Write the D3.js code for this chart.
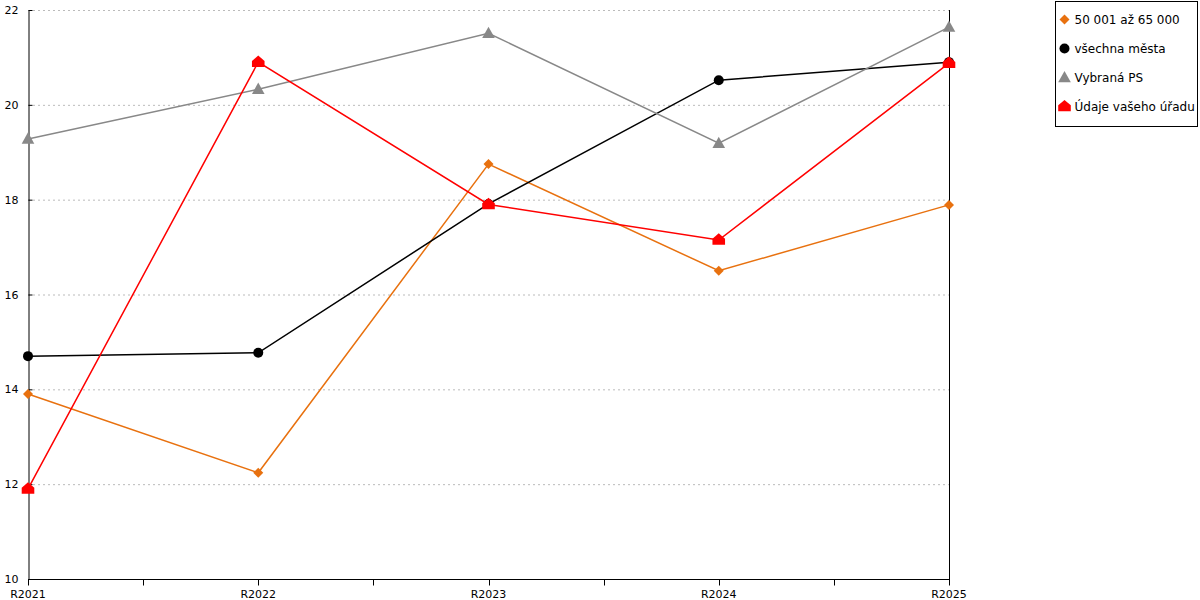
<!DOCTYPE html>
<html>
<head>
<meta charset="utf-8">
<script src="https://cdn.jsdelivr.net/npm/d3@7"></script>
<style>
  body { margin: 0; background: #fff; }
  svg { display: block; font-family: "DejaVu Sans", Verdana, sans-serif; }
</style>
</head>
<body>
<svg id="chart" width="1200" height="600"></svg>
<script>
const categories = ['R2021', 'R2022', 'R2023', 'R2024', 'R2025'];
const yTicks = [10, 12, 14, 16, 18, 20, 22];

const seriesNames = ['50 001 až 65 000', 'všechna města', 'Vybraná PS', 'Údaje vašeho úřadu'];
const valuesOrange = [13.9, 12.24, 18.75, 16.5, 17.89];
const valuesBlack = [14.7, 14.77, 17.91, 20.52, 20.9];
const valuesGray = [19.28, 20.33, 21.51, 19.19, 21.64];
const valuesRed = [11.9, 20.9, 17.9, 17.15, 20.88];

const colors = ['#e8710f', '#000000', '#888888', '#ff0000'];
const markers = ['diamond', 'circle', 'triangle', 'house'];
const allValues = [valuesOrange, valuesBlack, valuesGray, valuesRed];

const svg = d3.select('#chart');
const plotLeft = 28, plotRight = 949, plotTop = 10, plotBottom = 579;

const x = d3.scalePoint().domain(categories).range([plotLeft, plotRight]);
const y = d3.scaleLinear().domain([10, 22]).range([plotBottom, plotTop]);

// mřížka
svg.append('g')
  .selectAll('line')
  .data(yTicks.slice(1))
  .join('line')
  .attr('x1', plotLeft).attr('x2', plotRight)
  .attr('y1', d => y(d) + 0.5).attr('y2', d => y(d) + 0.5)
  .attr('stroke', '#bbb')
  .attr('stroke-dasharray', '2,3');

// osa y
const yAxis = svg.append('g')
  .attr('transform', `translate(${plotLeft + 0.5},0)`)
  .call(d3.axisLeft(y).tickValues(yTicks).tickSize(5).tickSizeOuter(0));
yAxis.select('.domain').attr('stroke', '#000');
yAxis.selectAll('.tick line').attr('x2', 4);
yAxis.selectAll('.tick text')
  .attr('x', -10)
  .style('font-size', '11px')
  .style('font-family', '"DejaVu Sans", Verdana, sans-serif')
  .attr('fill', '#000');

// pravá osa bez popisků
svg.append('line')
  .attr('x1', plotRight + 0.5).attr('x2', plotRight + 0.5)
  .attr('y1', plotTop).attr('y2', plotBottom)
  .attr('stroke', '#000');

// osa x s mezilehlými značkami
const nSteps = (categories.length - 1) * 2;
const midTicks = d3.range(nSteps + 1).map(i => plotLeft + i * (plotRight - plotLeft) / nSteps);
const xAxis = svg.append('g').attr('transform', `translate(0,${plotBottom + 0.5})`);
xAxis.append('line')
  .attr('x1', plotLeft).attr('x2', plotRight + 1)
  .attr('stroke', '#000');
xAxis.selectAll('line.tk')
  .data(midTicks)
  .join('line')
  .attr('class', 'tk')
  .attr('x1', d => Math.round(d) + 0.5).attr('x2', d => Math.round(d) + 0.5)
  .attr('y1', 0).attr('y2', 6)
  .attr('stroke', '#000');
xAxis.selectAll('text')
  .data(categories)
  .join('text')
  .attr('x', d => x(d))
  .attr('y', 18)
  .attr('text-anchor', 'middle')
  .style('font-size', '11px')
  .text(d => d);

function markerPath(type, s) {
  switch (type) {
    case 'diamond': return `M0,${-s}L${s},0L0,${s}L${-s},0Z`;
    case 'circle': return d3.symbol(d3.symbolCircle, Math.PI * s * s)();
    case 'triangle': return `M0,${-s * 1.1}L${s * 1.05},${s * 0.8}L${-s * 1.05},${s * 0.8}Z`;
    case 'house': return `M0,${-s * 1.1}L${s * 1.05},${-s * 0.2}L${s * 1.05},${s * 0.8}L${-s * 1.05},${s * 0.8}L${-s * 1.05},${-s * 0.2}Z`;
  }
}
const markerSize = [5, 5, 6, 6];

const line = d3.line().x((d, i) => x(categories[i])).y(d => y(d));

allValues.forEach((vals, k) => {
  const g = svg.append('g');
  g.append('path')
    .datum(vals)
    .attr('d', line)
    .attr('fill', 'none')
    .attr('stroke', colors[k])
    .attr('stroke-width', 1.5);
  g.selectAll('path.m')
    .data(vals)
    .join('path')
    .attr('class', 'm')
    .attr('transform', (d, i) => `translate(${x(categories[i])},${y(d)})`)
    .attr('d', markerPath(markers[k], markerSize[k]))
    .attr('fill', colors[k]);
});

// legenda
const legend = svg.append('g').attr('transform', 'translate(1055.5,1.5)');
legend.append('rect')
  .attr('width', 142).attr('height', 125)
  .attr('fill', '#fff').attr('stroke', '#000');
seriesNames.forEach((name, k) => {
  const item = legend.append('g').attr('transform', `translate(0,${18 + k * 29})`);
  item.append('path')
    .attr('transform', 'translate(9,0)')
    .attr('d', markerPath(markers[k], markerSize[k]))
    .attr('fill', colors[k]);
  item.append('text')
    .attr('x', 19)
    .attr('dy', '0.35em')
    .style('font-size', '12px')
    .text(name);
});
</script>
</body>
</html>
